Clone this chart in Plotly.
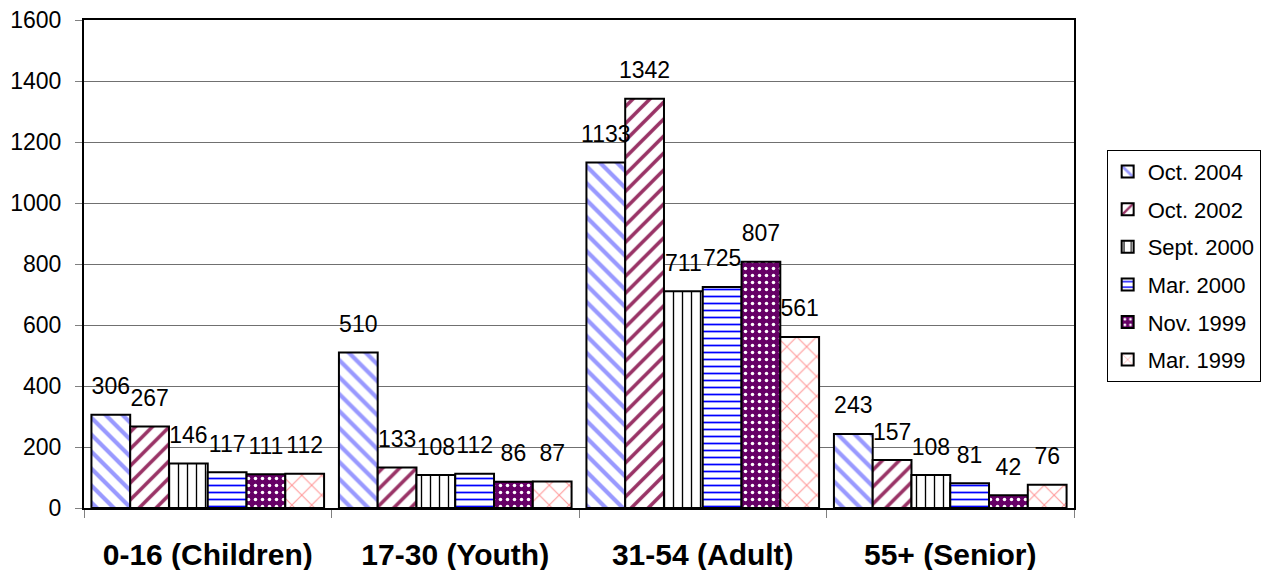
import plotly.graph_objects as go

categories = ["0-16 (Children)", "17-30 (Youth)", "31-54 (Adult)", "55+ (Senior)"]
series_names = ["Oct. 2004", "Oct. 2002", "Sept. 2000", "Mar. 2000", "Nov. 1999", "Mar. 1999"]
oct_2004 = [306, 510, 1133, 243]
oct_2002 = [267, 133, 1342, 157]
sept_2000 = [146, 108, 711, 108]
mar_2000 = [117, 112, 725, 81]
nov_1999 = [111, 86, 807, 42]
mar_1999 = [112, 87, 561, 76]
values = [oct_2004, oct_2002, sept_2000, mar_2000, nov_1999, mar_1999]
y_ticks = [0, 200, 400, 600, 800, 1000, 1200, 1400, 1600]

styles = [
    dict(shape="\\", fg="#9999FF", bg="white", size=12, sol=0.35),
    dict(shape="/", fg="#993366", bg="white", size=12, sol=0.3),
    dict(shape="|", fg="#000000", bg="white", size=9, sol=0.15),
    dict(shape="-", fg="#0000FF", bg="white", size=7, sol=0.25),
    dict(shape=".", fg="white", bg="#660066", size=7, sol=0.2),
    dict(shape="x", fg="#FF9999", bg="white", size=14, sol=0.15),
]

FONT = "Arial, Liberation Sans, sans-serif"
BARGAP = 0.06

fig = go.Figure()
for i, (name, vals, st) in enumerate(zip(series_names, values, styles)):
    fig.add_trace(go.Bar(
        name=name, x=categories, y=vals,
        legendgroup=name,
        marker=dict(
            color=st["bg"],
            line=dict(color="black", width=2),
            pattern=dict(shape=st["shape"], fgcolor=st["fg"], bgcolor=st["bg"],
                         size=st["size"], solidity=st["sol"], fillmode="replace"),
        ),
        offsetgroup=str(i),
    ))

for i, (name, vals) in enumerate(zip(series_names, values)):
    fig.add_trace(go.Scatter(
        x=categories, y=vals, mode="markers+text",
        text=[str(v) for v in vals], textposition="top center",
        textfont=dict(family=FONT, size=23, color="black"),
        marker=dict(size=22, opacity=0),
        offsetgroup=str(i), showlegend=False, hoverinfo="skip",
        cliponaxis=False,
    ))

# page body has an 8px default margin, so the figure is sized to fit the window
fig.update_layout(
    width=1268, height=562,
    margin=dict(l=76, r=202, t=12, b=62, autoexpand=False),
    paper_bgcolor="white", plot_bgcolor="white",
    barmode="group", bargap=BARGAP, bargroupgap=0,
    scattermode="group", scattergap=BARGAP,
    font=dict(family=FONT, color="black"),
    legend=dict(
        x=1.033, y=0.734, xanchor="left", yanchor="top",
        bordercolor="black", borderwidth=1,
        font=dict(family=FONT, size=22, color="black"),
        tracegroupgap=6,
    ),
    showlegend=True,
)

fig.update_xaxes(
    automargin=False,
    showline=True, linecolor="black", linewidth=2, mirror=True,
    ticks="outside", tickson="boundaries", ticklen=8, tickcolor="#808080",
    tickfont=dict(family=FONT, size=30, color="black", weight="bold"),
    ticklabelstandoff=19, ticklabeloverflow="allow",
    showgrid=False,
)
fig.update_yaxes(
    automargin=False,
    range=[0, 1600], tickvals=y_ticks,
    showline=True, linecolor="black", linewidth=2, mirror=True,
    ticks="outside", ticklen=7, tickcolor="#808080",
    tickfont=dict(family=FONT, size=23, color="black"),
    ticklabelstandoff=9, ticklabeloverflow="allow",
    showgrid=True, gridcolor="#707070", gridwidth=1,
    zeroline=False,
)

fig.write_html("out.html")
